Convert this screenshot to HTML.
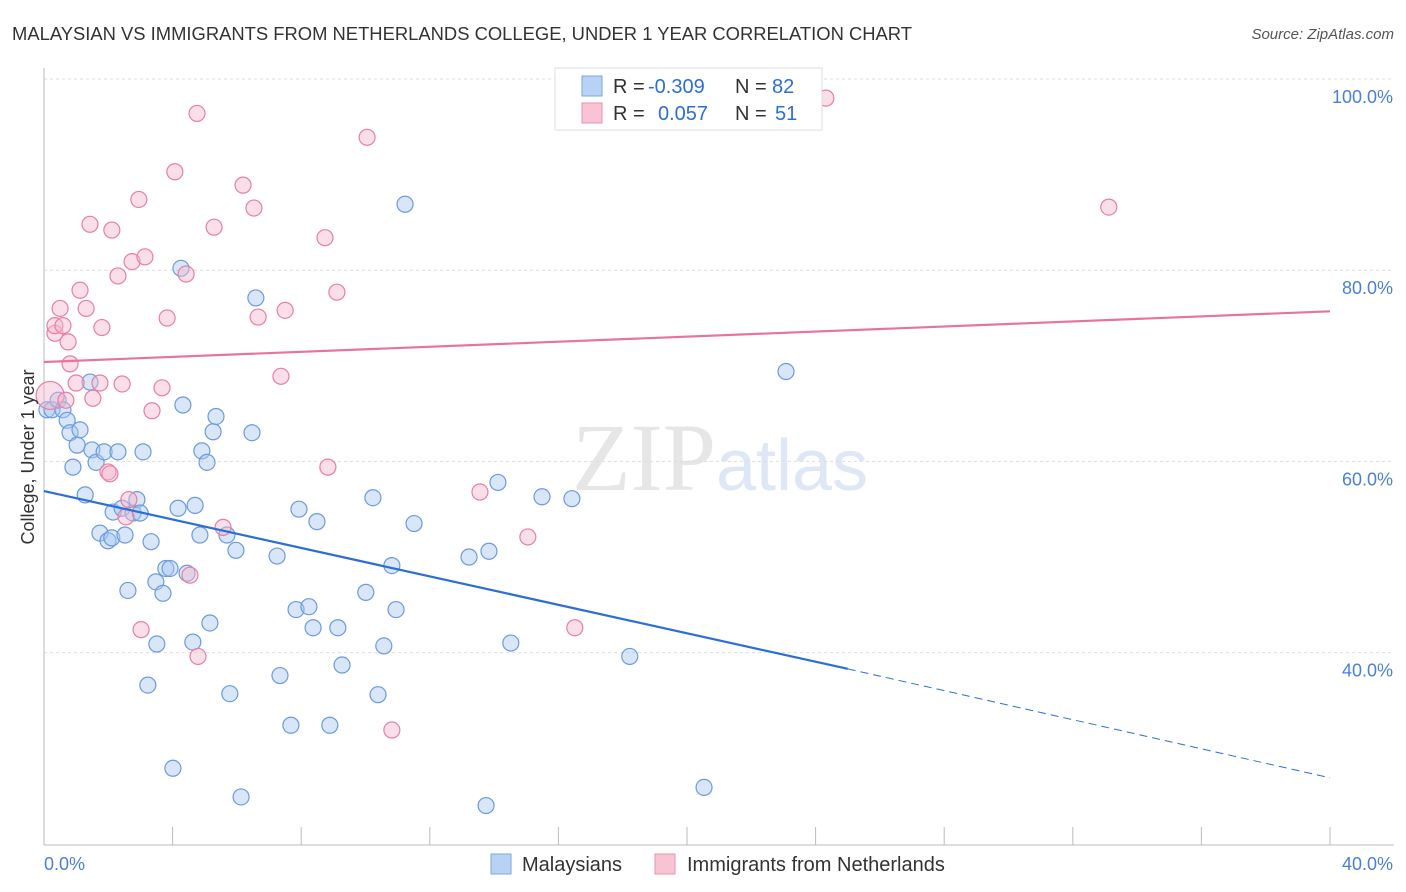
<!DOCTYPE html>
<html><head><meta charset="utf-8">
<style>
body{margin:0;background:#fff;font-family:"Liberation Sans",sans-serif;}
svg{display:block}
</style></head>
<body>
<svg id="chart" width="1406" height="892" xmlns="http://www.w3.org/2000/svg">
<text x="12" y="40" font-size="18" fill="#333" font-family="Liberation Sans" textLength="900" lengthAdjust="spacingAndGlyphs">MALAYSIAN VS IMMIGRANTS FROM NETHERLANDS COLLEGE, UNDER 1 YEAR CORRELATION CHART</text>
<text x="1394" y="39" font-size="15" fill="#555" text-anchor="end" font-style="italic">Source: ZipAtlas.com</text>
<text x="720" y="490" font-size="96" text-anchor="middle" fill="#e6e6e6" font-family="Liberation Serif">ZIP<tspan fill="#dde7f5" font-family="Liberation Sans" font-size="72">atlas</tspan></text>
<g id="grid"></g>
<g id="axes"></g>
<g id="marks"></g>
<g id="lines"></g>
<text transform="translate(34,457) rotate(-90)" font-size="18" fill="#333" text-anchor="middle">College, Under 1 year</text>
<g>
<rect x="555" y="68" width="267" height="62" fill="#fff" stroke="#ddd"/>
<rect x="582" y="76" width="20" height="20" fill="#b8d2f4" stroke="#7aa6e6"/>
<rect x="582" y="103" width="20" height="20" fill="#f8c4d4" stroke="#ea92b0"/>
<text x="613" y="93" font-size="20" fill="#333">R =</text>
<text x="648" y="93" font-size="20" fill="#2b6fd6">-0.309</text>
<text x="735" y="93" font-size="20" fill="#333">N =</text>
<text x="772" y="93" font-size="20" fill="#2b6fd6">82</text>
<text x="613" y="120" font-size="20" fill="#333">R =</text>
<text x="658" y="120" font-size="20" fill="#2b6fd6">0.057</text>
<text x="735" y="120" font-size="20" fill="#333">N =</text>
<text x="775" y="120" font-size="20" fill="#2b6fd6">51</text>
</g>
<g>
<rect x="491" y="854" width="20" height="20" fill="#b8d2f4" stroke="#7aa6e6"/>
<text x="522" y="871" font-size="20" fill="#333">Malaysians</text>
<rect x="655" y="854" width="20" height="20" fill="#f8c4d4" stroke="#ea92b0"/>
<text x="687" y="871" font-size="20" fill="#333">Immigrants from Netherlands</text>
</g>
</svg>
<script>
const blueX=[0.09,0.25,0.44,0.59,0.72,0.81,1.12,0.90,1.03,1.28,1.43,1.49,1.62,1.74,1.87,1.99,2.11,2.15,2.30,2.43,2.52,2.61,2.77,2.89,2.99,3.08,3.23,3.33,3.48,3.51,3.70,3.79,3.92,4.01,4.17,4.26,4.32,4.45,4.63,4.70,4.85,4.91,5.07,5.16,5.26,5.35,5.69,5.78,5.97,6.13,6.47,6.59,7.25,7.34,7.68,7.84,7.93,8.24,8.37,8.49,8.89,9.14,9.27,10.01,10.23,10.39,10.57,10.82,10.95,11.23,11.51,13.22,13.75,13.84,14.12,14.52,15.49,16.42,18.22,20.53,23.08];
const blueY=[65.4,65.4,66.4,65.4,64.3,63.0,63.3,59.4,61.7,56.5,68.3,61.2,59.9,52.5,61.0,51.7,52.0,54.7,61.0,55.1,52.3,46.5,54.6,56.0,54.6,61.0,36.6,51.6,47.4,40.9,46.2,48.8,48.8,27.9,55.1,80.2,65.9,48.3,41.1,55.4,52.3,61.1,59.9,43.1,63.1,64.7,52.3,35.7,50.7,24.9,63.0,77.1,50.1,37.6,32.4,44.5,55.0,44.8,42.6,53.7,32.4,42.6,38.7,46.3,56.2,35.6,40.7,49.1,44.5,86.9,53.5,50.0,24.0,50.6,57.8,41.0,56.3,56.1,39.6,25.9,69.4];
const pinkX=[0.19,0.34,0.34,0.50,0.59,0.68,0.75,0.81,1.00,1.12,1.31,1.43,1.52,1.74,1.80,1.99,2.05,2.11,2.30,2.43,2.55,2.64,2.74,2.95,3.02,3.14,3.36,3.67,3.83,4.07,4.42,4.54,4.76,4.79,5.29,5.57,6.19,6.53,6.66,7.37,7.50,8.74,8.83,9.11,10.05,10.82,13.56,15.05,16.51,24.32,33.12];
const pinkY=[66.9,73.4,74.2,76.0,74.2,66.4,72.5,70.2,68.2,77.9,76.0,84.8,66.6,68.2,74.0,58.9,58.7,84.2,79.4,68.1,54.2,56.0,80.9,87.4,42.4,81.4,65.3,67.7,75.0,90.3,79.6,48.1,96.4,39.6,84.5,53.1,88.9,86.5,75.1,68.9,75.8,83.4,59.4,77.7,93.9,31.9,56.8,52.1,42.6,98.0,86.6];
const yTicks=[100,80,60,40];
const yTickLabels=["100.0%","80.0%","60.0%","40.0%"];
const xTicks=[0,4,8,12,16,20,24,28,32,36,40];
const blueTrend=[[0,56.9],[25,38.3],[40,26.9]];
const pinkTrend=[[0,70.4],[40,75.7]];
const NS="http://www.w3.org/2000/svg";
const X=v=>44+v*32.15, Y=v=>79+(100-v)*9.56;
function mk(tag,attrs,parent){const e=document.createElementNS(NS,tag);for(const k in attrs)e.setAttribute(k,attrs[k]);parent.appendChild(e);return e;}
const grid=document.getElementById('grid'),axes=document.getElementById('axes'),marks=document.getElementById('marks'),lines=document.getElementById('lines');
yTicks.forEach((t,i)=>{
  const g=mk('line',{x1:44,x2:1394,y1:Y(t),y2:Y(t),stroke:'#ddd','stroke-dasharray':'3,3'},grid);
  
  
  const l=mk('text',{x:1393,y:Y(t)+24,'font-size':18,fill:'#4a7fd8','text-anchor':'end'},axes);
  l.textContent=yTickLabels[i];
  
  
});
mk('line',{x1:44,x2:44,y1:68,y2:845,stroke:'#bbb'},axes);
mk('line',{x1:44,x2:1394,y1:845,y2:845,stroke:'#bbb'},axes);
xTicks.forEach(t=>{
  const tk=mk('line',{x1:X(t),x2:X(t),y1:827,y2:845,stroke:'#bbb'},axes);
  
  
});
const x0=mk('text',{x:44,y:870,'font-size':18,fill:'#4a7fd8'},axes);x0.textContent='0.0%';


const x1=mk('text',{x:1393,y:870,'font-size':18,fill:'#4a7fd8','text-anchor':'end'},axes);x1.textContent='40.0%';


blueX.forEach((v,i)=>{
  const c=mk('circle',{cx:X(v),cy:Y(blueY[i]),r:8,fill:'rgba(168,200,240,0.45)',stroke:'#6a9be0','stroke-width':1.2},marks);
  
  
});
pinkX.forEach((v,i)=>{
  const c=mk('circle',{cx:X(v),cy:Y(pinkY[i]),r:i===0?14:8,fill:'rgba(245,184,203,0.45)',stroke:'#e87fa3','stroke-width':1.2},marks);
  
  
});
const b1=mk('line',{x1:X(blueTrend[0][0]),y1:Y(blueTrend[0][1]),x2:X(blueTrend[1][0]),y2:Y(blueTrend[1][1]),stroke:'#2b6fd6','stroke-width':2.2},lines);


const b2=mk('line',{x1:X(blueTrend[1][0]),y1:Y(blueTrend[1][1]),x2:X(blueTrend[2][0]),y2:Y(blueTrend[2][1]),stroke:'#2b6fd6','stroke-width':1,'stroke-dasharray':'8,5'},lines);


const p1=mk('line',{x1:X(pinkTrend[0][0]),y1:Y(pinkTrend[0][1]),x2:X(pinkTrend[1][0]),y2:Y(pinkTrend[1][1]),stroke:'#e8739b','stroke-width':2.2},lines);


</script>
</body></html>
